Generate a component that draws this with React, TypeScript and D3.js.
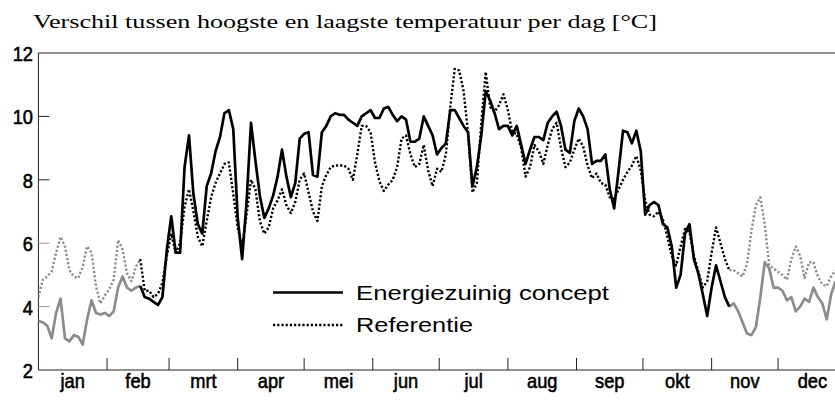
import React from "react";
import * as d3 from "d3";

// Daily temperature range [°C], sampled every 2 days from 1 Jan (day 0) to day 360
const STEP_DAYS = 2;
const energiezuinig: number[] = [
  3.55, 3.5, 3.4, 3.0, 3.8, 4.25, 3.0, 2.9, 3.1, 3.05, 2.8, 3.6, 4.2, 3.8, 3.75, 3.8, 3.7, 3.85, 4.6, 4.95,
  4.6, 4.5, 4.6, 4.65, 4.3, 4.25, 4.15, 4.05, 4.3, 5.8, 6.85, 5.7, 5.7, 8.4, 9.4, 7.55, 6.6, 6.3, 7.8, 8.2,
  8.9, 9.35, 10.1, 10.2, 9.6, 6.8, 5.5, 7.3, 9.8, 8.6, 7.5, 6.8, 7.1, 7.5, 8.1, 8.95, 8.1, 7.45, 7.9, 9.3,
  9.45, 9.5, 8.15, 8.1, 9.5, 9.7, 10.0, 10.1, 10.05, 10.05, 9.9, 9.8, 9.7, 10.0, 10.1, 10.2, 9.95, 9.95, 10.25, 10.3,
  10.05, 9.85, 10.0, 9.9, 9.2, 9.2, 9.3, 10.0, 9.7, 9.4, 8.8, 9.0, 9.15, 10.2, 10.2, 9.95, 9.7, 9.5, 7.8, 8.4,
  9.4, 10.8, 10.5, 10.1, 9.6, 9.7, 9.7, 9.4, 9.7, 9.1, 8.5, 8.95, 9.35, 9.35, 9.25, 9.8, 10.0, 10.15, 9.7, 8.95,
  8.85, 9.85, 10.25, 10.0, 9.6, 8.5, 8.6, 8.6, 8.8, 7.7, 7.1, 8.3, 9.55, 9.5, 9.15, 9.55, 8.9, 6.9, 7.2, 7.3,
  7.2, 6.6, 6.5, 5.9, 4.6, 5.0, 6.3, 6.6, 5.5, 5.05, 4.4, 3.7, 4.6, 5.3, 4.8, 4.3, 4.0, 4.1, 3.85, 3.5,
  3.15, 3.1, 3.35, 4.3, 5.4, 5.2, 4.6, 4.6, 4.5, 4.2, 4.3, 3.85, 4.0, 4.25, 4.15, 4.6, 4.3, 4.1, 3.6, 4.4,
  4.8,
];
const referentie: number[] = [
  4.3, 4.85, 4.95, 5.1, 5.7, 6.2, 5.9, 5.15, 4.95, 4.9, 5.25, 5.9, 5.7, 4.65, 4.1, 4.35, 4.55, 4.85, 6.1, 5.8,
  5.05, 4.8, 5.25, 5.5, 4.5, 4.5, 4.3, 4.4, 4.75, 5.6, 6.3, 5.7, 6.0, 7.15, 7.7, 7.0, 6.2, 5.9, 6.7, 7.45,
  7.9, 8.2, 8.5, 8.55, 7.55, 6.5, 5.9, 6.9, 8.0, 7.7, 6.7, 6.3, 6.5, 7.1, 7.35, 7.7, 7.2, 6.95, 7.3, 8.0,
  8.2, 7.6, 7.0, 6.7, 7.8, 8.15, 8.4, 8.45, 8.45, 8.45, 8.35, 8.0, 8.8, 9.7, 9.7, 9.5, 8.55, 7.95, 7.65, 7.85,
  8.0, 8.4, 9.3, 9.4, 8.8, 8.4, 8.5, 9.1, 8.3, 7.8, 8.35, 8.25, 8.8, 10.3, 11.5, 11.45, 10.8, 9.5, 7.6, 7.9,
  9.8, 11.4, 10.3, 10.15, 10.35, 10.7, 10.2, 9.5, 9.45, 9.0, 8.1, 8.4, 9.1, 8.9, 8.5, 9.1, 9.6, 9.8, 9.0, 8.4,
  8.55, 8.95, 9.3, 9.05, 8.45, 8.05, 8.2, 7.9, 7.85, 7.45, 7.4, 7.7, 8.0, 8.25, 8.45, 8.75, 8.3, 7.35, 6.9, 6.85,
  7.0, 6.75, 6.2, 5.6, 5.3, 5.9, 6.45, 6.35, 5.6, 5.1, 4.6, 4.8, 5.7, 6.5, 6.0, 5.5, 5.15, 5.15, 5.05, 4.95,
  5.35, 6.4, 7.2, 7.45, 6.6, 5.3, 5.2, 5.1, 5.0, 4.85, 5.5, 5.9, 5.6, 4.9, 5.4, 5.4, 4.95, 4.7, 4.65, 4.95,
  5.15,
];
// Summer period (drawn black), otherwise grey
const summerStartDay = 46;
const summerEndDay = 312;

const monthLabels = ["jan", "feb", "mrt", "apr", "mei", "jun", "jul", "aug", "sep", "okt", "nov", "dec"];
const monthDays = [31, 28, 31, 30, 31, 30, 31, 31, 30, 31, 30, 31];
const yTicks = [2, 4, 6, 8, 10, 12];

const titleText = "Verschil tussen hoogste en laagste temperatuur per dag [°C]";
const legendLabels = ["Energiezuinig concept", "Referentie"];

const W = 835;
const H = 401;
const GREY = "#8c8c8c";

export default function App() {
  const x = d3.scaleLinear().domain([0, 365]).range([38.4, 846.7]);
  const y = d3.scaleLinear().domain([2, 12]).range([370, 53]);

  const monthStarts: number[] = [];
  let acc = 0;
  monthDays.forEach((d) => {
    monthStarts.push(acc);
    acc += d;
  });

  const toPts = (arr: number[]) => arr.map((v, i) => [i * STEP_DAYS, v] as [number, number]);
  const line = d3
    .line<[number, number]>()
    .x((d) => x(d[0]))
    .y((d) => y(d[1]));

  const split = (arr: number[]) => {
    const pts = toPts(arr);
    const a = pts.filter((p) => p[0] <= summerStartDay);
    const b = pts.filter((p) => p[0] >= summerStartDay && p[0] <= summerEndDay);
    const c = pts.filter((p) => p[0] >= summerEndDay);
    return { a, b, c };
  };
  const E = split(energiezuinig);
  const R = split(referentie);

  const condensed = (key: string, tx: number, ty: number, label: string, anchor: string) => (
    <g key={key} transform={`translate(${tx},${ty}) scale(0.87,1)`}>
      <text
        x={0}
        y={0}
        textAnchor={anchor as any}
        fontFamily="'Liberation Sans', Arial, sans-serif"
        fontSize={21}
        fill="#000"
        stroke="#000"
        strokeWidth={0.6}
      >
        {label}
      </text>
    </g>
  );

  const dash = "2.2,2";

  return (
    <svg
      width={W}
      height={H}
      style={{ position: "absolute", left: 0, top: 0, background: "#fff" }}
    >
      <defs>
        <clipPath id="plotclip">
          <rect x={38.4} y={40} width={W - 38.4} height={340} />
        </clipPath>
      </defs>
      <rect x={0} y={0} width={W} height={H} fill="#fff" />
      {/* Title */}
      <text
        x={33}
        y={28}
        fontFamily="'Liberation Serif', 'Times New Roman', serif"
        fontSize={19}
        textLength={624}
        lengthAdjust="spacingAndGlyphs"
        fill="#000"
      >
        {titleText}
      </text>

      {/* Frame */}
      <line x1={x(0)} x2={W} y1={y(12)} y2={y(12)} stroke="#222" strokeWidth={1} />
      <line x1={x(0)} x2={W} y1={y(2)} y2={y(2)} stroke="#222" strokeWidth={1} />
      <line x1={x(0)} x2={x(0)} y1={y(12)} y2={y(2)} stroke="#222" strokeWidth={1} />

      {/* Y ticks */}
      {yTicks.map((t) =>
        t > 2 && t < 12 ? (
          <line
            key={"yt" + t}
            x1={x(0)}
            x2={x(0) + 11}
            y1={y(t)}
            y2={y(t)}
            stroke={t <= 6 ? "#999" : "#222"}
            strokeWidth={1}
          />
        ) : null
      )}
      {yTicks.map((t) => condensed("yl" + t, 33, y(t) + 8, String(t), "end"))}

      {/* X ticks */}
      {monthStarts.slice(1).map((d) => (
        <line key={"xt" + d} x1={x(d)} x2={x(d)} y1={y(2)} y2={y(2) - 12} stroke="#222" strokeWidth={1} />
      ))}
      {monthLabels.map((m, i) => condensed("xl" + m, x(monthStarts[i] + monthDays[i] / 2), 388, m, "middle"))}

      {/* Series */}
      <g clipPath="url(#plotclip)" fill="none" strokeLinejoin="round">
        <path d={line(R.a) || ""} stroke={GREY} strokeWidth={2.4} strokeDasharray={dash} />
        <path d={line(R.c) || ""} stroke={GREY} strokeWidth={2.4} strokeDasharray={dash} />
        <path d={line(E.a) || ""} stroke={GREY} strokeWidth={2.7} />
        <path d={line(E.c) || ""} stroke={GREY} strokeWidth={2.7} />
        <path d={line(R.b) || ""} stroke="#000" strokeWidth={2.4} strokeDasharray={dash} />
        <path d={line(E.b) || ""} stroke="#000" strokeWidth={2.7} />
      </g>

      {/* Legend */}
      <line x1={273} x2={343} y1={292.5} y2={292.5} stroke="#000" strokeWidth={2.5} />
      <line x1={273} x2={343} y1={325} y2={325} stroke="#000" strokeWidth={2.3} strokeDasharray={dash} />
      <text
        x={356}
        y={299.5}
        fontFamily="'Liberation Sans', Arial, sans-serif"
        fontSize={20}
        textLength={253}
        lengthAdjust="spacingAndGlyphs"
        fill="#000"
      >
        {legendLabels[0]}
      </text>
      <text
        x={356}
        y={331.5}
        fontFamily="'Liberation Sans', Arial, sans-serif"
        fontSize={20}
        textLength={117}
        lengthAdjust="spacingAndGlyphs"
        fill="#000"
      >
        {legendLabels[1]}
      </text>
    </svg>
  );
}
